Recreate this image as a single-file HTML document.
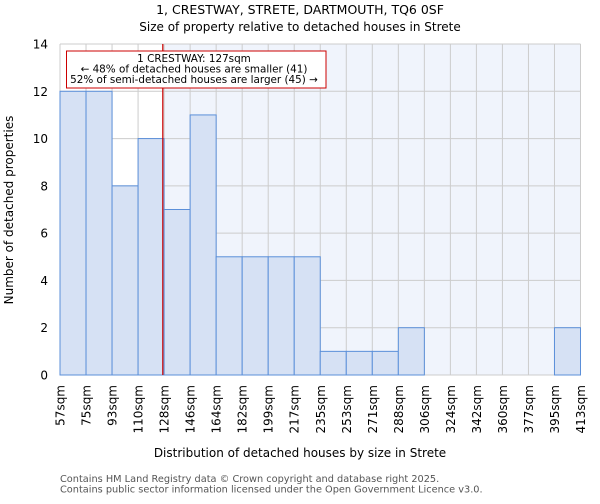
<!DOCTYPE html>
<html><head><meta charset="utf-8"><style>
body{margin:0;background:#fff;font-family:"DejaVu Sans","Liberation Sans",sans-serif}
</style></head><body>
<svg width="600" height="500" xmlns="http://www.w3.org/2000/svg" font-family="DejaVu Sans, Liberation Sans, sans-serif">
<text x="300" y="14" text-anchor="middle" font-size="12.5">1, CRESTWAY, STRETE, DARTMOUTH, TQ6 0SF</text>
<text x="300" y="31" text-anchor="middle" font-size="12">Size of property relative to detached houses in Strete</text>
<g id="plot"></g>
<text x="300" y="457" text-anchor="middle" font-size="12">Distribution of detached houses by size in Strete</text>
<text transform="translate(13,210) rotate(-90)" text-anchor="middle" font-size="12">Number of detached properties</text>
<text x="60" y="482" font-size="9.75" fill="#555">Contains HM Land Registry data © Crown copyright and database right 2025.</text>
<text x="60" y="492.5" font-size="9.75" fill="#555">Contains public sector information licensed under the Open Government Licence v3.0.</text>
</svg>
<script>
const categories=["57sqm","75sqm","93sqm","110sqm","128sqm","146sqm","164sqm","182sqm","199sqm","217sqm","235sqm","253sqm","271sqm","288sqm","306sqm","324sqm","342sqm","360sqm","377sqm","395sqm","413sqm"];
const counts=[12,12,8,10,7,11,5,5,5,5,1,1,1,2,0,0,0,0,0,2];
const yTicks=[0,2,4,6,8,10,12,14];
const markerIndex=3.95;
const NS="http://www.w3.org/2000/svg";
const g=document.getElementById('plot');
const L=60,R=580.5,T=44,B=375,yMax=14;
const n=counts.length,bw=(R-L)/n;
const xs=i=>L+i*bw, ys=v=>B-(v/yMax)*(B-T);
function el(t,a){const e=document.createElementNS(NS,t);for(const k in a)e.setAttribute(k,a[k]);g.appendChild(e);return e;}
const mx=xs(markerIndex);
let e=el('rect',{x:L,y:T,width:mx-L,height:B-T,fill:'#ffffff'});


e=el('rect',{x:mx,y:T,width:R-mx,height:B-T,fill:'#f0f4fc'});


for(let i=0;i<=n;i++){e=el('line',{x1:xs(i),x2:xs(i),y1:T,y2:B,stroke:'#cccccc','stroke-width':1});

}
yTicks.forEach(v=>{e=el('line',{x1:L,x2:R,y1:ys(v),y2:ys(v),stroke:'#cccccc','stroke-width':1});


const t=el('text',{x:L-12,y:ys(v)+4.5,'text-anchor':'end','font-size':12});t.textContent=v;

});
counts.forEach((c,i)=>{if(c<=0)return;e=el('rect',{x:xs(i),y:ys(c),width:bw,height:B-ys(c),fill:'#d6e1f4',stroke:'#5b8fd9','stroke-width':1});

});
categories.forEach((c,i)=>{const t=el('text',{transform:`translate(${xs(i)+4.5},385) rotate(-90)`,'text-anchor':'end','font-size':12});t.textContent=c;

});
e=el('line',{x1:mx,x2:mx,y1:T,y2:B,stroke:'#cc0000','stroke-width':1.2});


e=el('rect',{x:66.5,y:51,width:259.5,height:37,fill:'#fff',stroke:'#cc0000','stroke-width':1});


[["1 CRESTWAY: 127sqm",62],["← 48% of detached houses are smaller (41)",72.5],["52% of semi-detached houses are larger (45) →",83]].forEach(([s,y])=>{const t=el('text',{x:194,y:y,'text-anchor':'middle','font-size':10.4});t.textContent=s;

});
</script>
</body></html>
